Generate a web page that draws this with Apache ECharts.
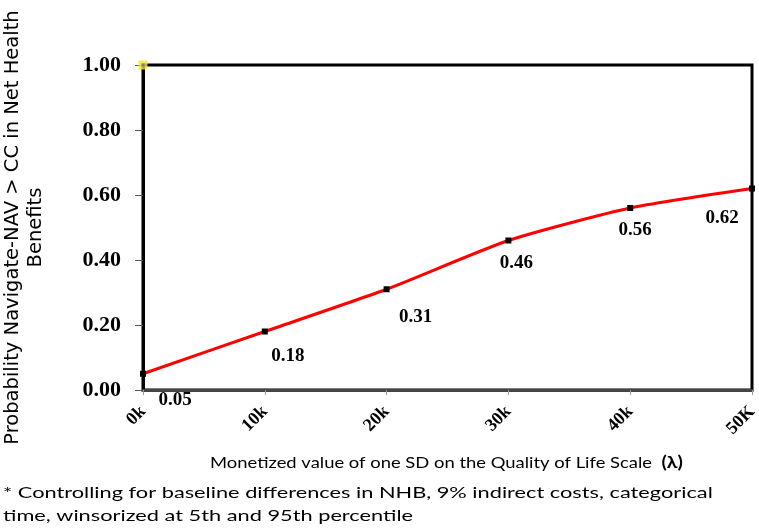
<!DOCTYPE html>
<html>
<head>
<meta charset="utf-8">
<script src="https://cdn.jsdelivr.net/npm/echarts@6/dist/echarts.min.js"></script>
<style>
html,body{margin:0;padding:0;background:#fff;}
#chart{width:759px;height:530px;}
</style>
</head>
<body>
<div id="chart"></div>
<script>
var categories = ['0k', '10k', '20k', '30k', '40k', '50K'];
var probabilities = [0.05, 0.18, 0.31, 0.46, 0.56, 0.62];
var highlightPoint = [[0, 1.0]];
var yAxisTitle = 'Probability Navigate-NAV > CC in Net Health\nBenefits';
var xAxisTitle = 'Monetized value of one SD on the Quality of Life Scale  ';
var xAxisSymbol = '(λ)';
var footnoteLines = [
  '* Controlling for baseline differences in NHB, 9% indirect costs, categorical',
  'time, winsorized at 5th and 95th percentile'
];

var labelOffsets = [[32, 9], [23, 7], [29, 10], [8, 5], [5, 5], [-30, 12]];

var chart = echarts.init(document.getElementById('chart'), null, {renderer: 'canvas'});

var lineData = probabilities.map(function (v, i) {
  return {
    value: v,
    label: {offset: labelOffsets[i]}
  };
});

var option = {
  animation: false,
  backgroundColor: '#ffffff',
  grid: {
    left: 143, top: 65, right: 7, bottom: 140,
    containLabel: false,
    outerBoundsMode: 'none',
    show: true, borderColor: '#000', borderWidth: 3, backgroundColor: 'transparent'
  },
  xAxis: {
    type: 'category',
    data: categories,
    boundaryGap: false,
    axisLine: {lineStyle: {color: '#444', width: 3}},
    axisTick: {show: true, alignWithLabel: true, length: 5, lineStyle: {color: '#999', width: 1}},
    axisLabel: {
      rotate: 45, margin: 19,
      fontFamily: 'Liberation Serif', fontWeight: 'bold', fontSize: 18, color: '#000'
    }
  },
  yAxis: {
    type: 'value',
    min: 0, max: 1, interval: 0.2,
    axisLine: {show: true, lineStyle: {color: '#000', width: 3}},
    axisTick: {show: true, length: 8, lineStyle: {color: '#555', width: 1}},
    splitLine: {show: false},
    axisLabel: {
      margin: 22,
      fontFamily: 'Liberation Serif', fontWeight: 'bold', fontSize: 22, color: '#000',
      formatter: function (v) { return v.toFixed(2); }
    },
    name: yAxisTitle,
    nameLocation: 'middle',
    nameRotate: 90,
    nameGap: 96,
    nameTextStyle: {
      fontFamily: 'DejaVu Sans', fontSize: 19.5, lineHeight: 23, color: '#000', align: 'center'
    }
  },
  series: [
    {
      type: 'line',
      data: lineData,
      smooth: 0.2,
      symbol: 'rect',
      symbolSize: 6,
      itemStyle: {color: '#000'},
      lineStyle: {color: '#ff0000', width: 3},
      z: 3,
      label: {
        show: true,
        position: 'bottom',
        distance: 5,
        fontFamily: 'Liberation Serif', fontWeight: 'bold', fontSize: 19, color: '#000',
        formatter: function (p) { return p.value.toFixed(2); }
      }
    },
    {
      type: 'scatter',
      data: highlightPoint,
      symbol: 'rect',
      symbolSize: 9,
      itemStyle: {color: '#f5e62a'},
      z: 5
    },
    {
      type: 'scatter',
      data: highlightPoint,
      symbol: 'rect',
      symbolSize: 3,
      itemStyle: {color: '#6b6bb0'},
      z: 6
    }
  ],
  graphic: [
    {
      type: 'text', x: 210, y: 454, scaleX: 1.15,
      style: {
        text: xAxisTitle + '{b|' + xAxisSymbol + '}',
        font: '16px Lato', fill: '#000',
        rich: {b: {fontFamily: 'Lato', fontWeight: 'bold', fontSize: 17, fill: '#000'}}
      }
    }
  ].concat(footnoteLines.map(function (t, i) {
    return {
      type: 'text', x: 3, y: 485 + i * 23, scaleX: 1.36,
      style: {text: t, font: '16px Lato', fill: '#000'}
    };
  }))
};
chart.setOption(option);
</script>
</body>
</html>
